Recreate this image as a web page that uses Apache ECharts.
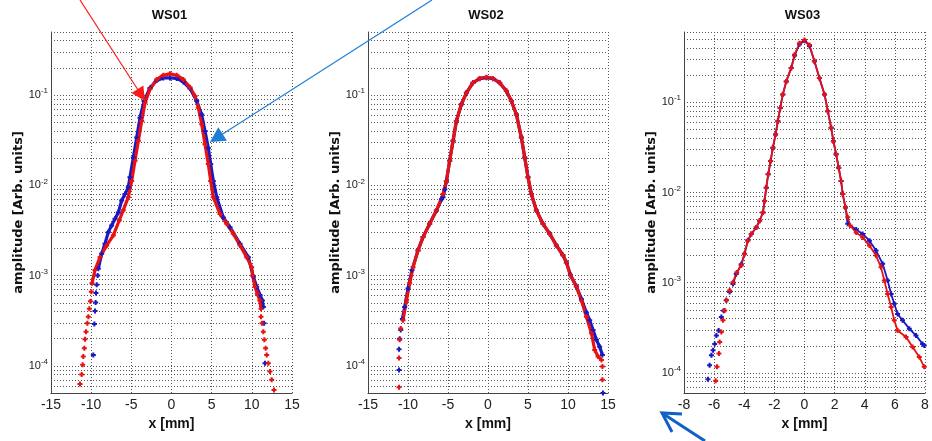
<!DOCTYPE html>
<html><head><meta charset="utf-8">
<script src="https://cdn.jsdelivr.net/npm/echarts@6/dist/echarts.min.js"></script>
<style>html,body{margin:0;padding:0;background:#fff}#c{width:932px;height:441px}</style>
</head><body><div id="c"></div>
<script>
// ---------- data (x in mm, amplitude in arb. units) ----------
const panelTitles = ['WS01', 'WS02', 'WS03'];
const xTicks = [[-15, 15, 5], [-15, 15, 5], [-8, 8, 2]];
const yRanges = [[5e-5, 0.5], [5e-5, 0.5], [6e-5, 0.6]];
const yLabelTicks = [1e-4, 1e-3, 1e-2, 1e-1];

const ws01BlueTail = [[-9.73,1.32e-4],[-9.6,2.9e-4],[-9.52,4.05e-4],[-9.44,5.03e-4],[-9.4,6.4e-4],[-9.31,7.9e-4],[-9.19,1.0e-3],[11.52,2.96e-4],[11.64,1.07e-4]];
const ws01BlueBody = [[-9.11,1.19e-3],[-8.69,1.75e-3],[-8.28,2.25e-3],[-7.87,3.03e-3],[-7.45,3.6e-3],[-7.03,4.26e-3],[-6.62,5.0e-3],[-6.2,6.8e-3],[-5.79,8.0e-3],[-5.38,9.5e-3],[-5.17,0.0123],[-4.75,0.0203],[-4.33,0.0338],[-3.92,0.0562],[-3.42,0.0859],[-2.68,0.12],[-1.84,0.145],[-1.02,0.155],[-0.19,0.155],[0.65,0.153],[1.47,0.14],[2.3,0.118],[3.14,0.086],[3.76,0.061],[4.17,0.04],[4.58,0.026],[4.88,0.0172],[5.2,0.0112],[5.63,7.4e-3],[6.45,4.4e-3],[7.28,3.44e-3],[8.53,2.25e-3],[9.56,1.6e-3],[10.19,9.7e-4],[10.6,7.5e-4],[11.02,6.1e-4],[11.31,5.3e-4],[11.43,4.5e-4]];
const ws01RedTail = [[-11.39,6.3e-5],[-11.18,8e-5],[-11.06,1.03e-4],[-10.98,1.27e-4],[-10.85,1.57e-4],[-10.77,1.97e-4],[-10.64,2.39e-4],[-10.48,2.96e-4],[-10.35,3.5e-4],[-10.23,4.3e-4],[-10.1,5.2e-4],[-9.98,6.6e-4],[11.14,3.5e-4],[11.27,2.96e-4],[11.43,2.39e-4],[11.56,1.94e-4],[11.72,1.57e-4],[11.85,1.32e-4],[12.05,1.07e-4],[12.26,8.65e-5],[12.47,7.0e-5],[12.76,5.4e-5]];
const ws01RedBody = [[-9.9,8.2e-4],[-9.52,1.15e-3],[-8.9,1.6e-3],[-8.07,2.16e-3],[-7.24,2.79e-3],[-6.5,4.1e-3],[-6.0,5.3e-3],[-5.38,7.4e-3],[-4.96,0.0112],[-4.54,0.0187],[-4.13,0.0311],[-3.71,0.0516],[-3.3,0.082],[-2.68,0.116],[-1.84,0.149],[-1.02,0.166],[-0.19,0.172],[0.65,0.166],[1.47,0.149],[2.3,0.122],[2.93,0.0975],[3.34,0.0724],[3.76,0.0475],[4.17,0.0286],[4.58,0.0172],[4.88,0.0112],[5.2,7.4e-3],[6.04,4.8e-3],[6.87,3.75e-3],[7.69,2.91e-3],[8.53,2.16e-3],[9.36,1.6e-3],[9.98,1.24e-3],[10.1,1.0e-3],[10.4,7.5e-4],[10.68,6.3e-4],[11.0,5.3e-4],[11.14,4.3e-4]];

const ws02BlueTail = [[-11.12,9.0e-5],[-11.12,1.53e-4],[-11.04,2.0e-4],[-10.91,2.5e-4],[14.37,5.0e-5]];
const ws02BlueBody = [[-10.7,3.3e-4],[-10.41,4.5e-4],[-10.0,7.2e-4],[-9.5,1.15e-3],[-8.75,1.9e-3],[-8.12,2.67e-3],[-7.29,3.75e-3],[-6.45,5.26e-3],[-5.8,7.0e-3],[-5.62,7.4e-3],[-5.4,9.0e-3],[-5.2,0.0112],[-4.79,0.0187],[-4.37,0.0311],[-3.95,0.0516],[-3.33,0.079],[-2.7,0.106],[-1.87,0.137],[-1.04,0.152],[-0.2,0.156],[0.62,0.152],[1.46,0.137],[2.3,0.111],[2.92,0.086],[3.55,0.061],[4.17,0.0338],[4.59,0.0203],[5.0,0.0123],[5.42,8.0e-3],[6.05,5.26e-3],[6.87,3.75e-3],[7.71,2.91e-3],[8.55,2.16e-3],[9.37,1.68e-3],[9.8,1.4e-3],[10.3,1.02e-3],[11.05,7.6e-4],[11.68,5.5e-4],[12.3,3.9e-4],[12.71,3.2e-4],[13.13,2.5e-4],[13.55,1.94e-4],[13.96,1.63e-4],[14.3,1.32e-4]];
const ws02RedTail = [[-11.12,5.8e-5],[-11.12,1.22e-4],[-11.04,1.94e-4],[-10.91,2.6e-4],[14.3,9.8e-5],[14.3,7.0e-5]];
const ws02RedBody = [[-10.62,3.2e-4],[-10.2,5.3e-4],[-9.79,8.2e-4],[-9.37,1.24e-3],[-8.75,1.9e-3],[-8.12,2.67e-3],[-7.29,3.75e-3],[-6.45,5.26e-3],[-5.62,8.0e-3],[-5.2,0.0112],[-4.79,0.0187],[-4.37,0.0311],[-3.95,0.0516],[-3.33,0.079],[-2.7,0.106],[-1.87,0.137],[-1.04,0.153],[-0.2,0.158],[0.62,0.153],[1.46,0.137],[2.3,0.111],[2.92,0.086],[3.55,0.061],[4.17,0.0338],[4.59,0.0203],[5.0,0.0123],[5.42,8.0e-3],[6.05,5.26e-3],[6.87,3.75e-3],[7.71,2.91e-3],[8.55,2.16e-3],[9.37,1.68e-3],[9.8,1.4e-3],[10.3,1.0e-3],[11.05,7.5e-4],[11.68,5.3e-4],[12.3,3.5e-4],[12.93,2.3e-4],[13.34,1.5e-4],[13.76,1.27e-4],[14.18,1.16e-4]];

const ws03BlueTail = [[-6.41,8.5e-5],[-6.3,1.22e-4],[-6.18,1.57e-4],[-6.07,1.79e-4],[-5.96,2.1e-4],[-5.85,2.6e-4],[-5.7,2.96e-4],[-5.52,4.16e-4],[-5.37,4.9e-4],[-5.19,6.4e-4],[-4.97,7.9e-4]];
const ws03BlueBody = [[-4.75,9.7e-4],[-4.53,1.25e-3],[-4.2,1.6e-3],[-3.98,2.1e-3],[-3.76,2.95e-3],[-3.53,3.47e-3],[-3.2,4.1e-3],[-2.98,4.86e-3],[-2.76,6.0e-3],[-2.65,8.07e-3],[-2.54,0.0113],[-2.41,0.0159],[-2.25,0.0223],[-2.1,0.0313],[-1.92,0.044],[-1.77,0.0616],[-1.61,0.0865],[-1.44,0.122],[-1.21,0.17],[-0.88,0.24],[-0.66,0.33],[-0.33,0.44],[0,0.48],[0.33,0.42],[0.66,0.284],[0.99,0.185],[1.33,0.122],[1.55,0.0796],[1.77,0.052],[1.92,0.037],[2.1,0.0265],[2.27,0.0188],[2.43,0.0134],[2.54,9.6e-3],[2.72,6.8e-3],[2.87,4.5e-3],[3.43,3.9e-3],[3.86,3.47e-3],[4.31,2.92e-3],[4.75,2.27e-3],[5.19,1.62e-3],[5.52,1.06e-3],[5.75,7.5e-4],[5.96,5.85e-4],[6.18,4.5e-4],[6.51,3.83e-4],[6.96,3.1e-4],[7.4,2.6e-4],[7.84,2.1e-4],[7.95,2.02e-4]];
const ws03RedTail = [[-5.9,8.2e-5],[-5.81,1.17e-4],[-5.68,1.64e-4],[-5.63,2.2e-4],[-5.52,2.84e-4],[-5.41,3.83e-4],[-5.3,4.93e-4],[-5.19,6.4e-4],[-4.97,8.2e-4]];
const ws03RedBody = [[-4.75,1.01e-3],[-4.5,1.3e-3],[-4.2,1.55e-3],[-3.98,2.08e-3],[-3.76,2.92e-3],[-3.53,3.47e-3],[-3.2,4.1e-3],[-2.98,4.86e-3],[-2.76,6.0e-3],[-2.65,8.07e-3],[-2.54,0.0113],[-2.41,0.0159],[-2.25,0.0223],[-2.1,0.0313],[-1.92,0.044],[-1.77,0.0616],[-1.61,0.0865],[-1.44,0.122],[-1.21,0.17],[-0.88,0.24],[-0.66,0.336],[-0.33,0.45],[0,0.49],[0.33,0.43],[0.66,0.284],[0.99,0.185],[1.33,0.122],[1.55,0.0796],[1.77,0.052],[1.92,0.037],[2.1,0.0265],[2.27,0.0188],[2.43,0.0134],[2.54,9.6e-3],[2.72,6.8e-3],[2.87,5.3e-3],[3.03,4.3e-3],[3.43,3.6e-3],[3.86,3.18e-3],[4.31,2.58e-3],[4.75,2.0e-3],[5.08,1.48e-3],[5.3,1.06e-3],[5.52,7.5e-4],[5.75,5.4e-4],[5.96,3.83e-4],[6.18,2.96e-4],[6.74,2.5e-4],[7.18,1.94e-4],[7.62,1.5e-4],[7.95,1.17e-4]];

const panelSeries = [
  {blueBody: ws01BlueBody, blueTail: ws01BlueTail, redBody: ws01RedBody, redTail: ws01RedTail},
  {blueBody: ws02BlueBody, blueTail: ws02BlueTail, redBody: ws02RedBody, redTail: ws02RedTail},
  {blueBody: ws03BlueBody, blueTail: ws03BlueTail, redBody: ws03RedBody, redTail: ws03RedTail}
];

// ---------- layout / style ----------
const grids = [
  {left: 51, top: 32, width: 241, height: 361},
  {left: 368, top: 32, width: 240, height: 361},
  {left: 684, top: 32, width: 241, height: 361}
];
const lineWidths = [3.2, 3.2, 1.8];
const BLUE = '#1818c4', RED = '#e81212';
const plus = 'path://M3,0H7V3H10V7H7V10H3V7H0V3H3Z';
const gridLine = {show: true, lineStyle: {color: '#555', width: 1, type: [1, 2]}};

function gridValues(lo, hi) {
  const out = [];
  for (let e = -6; e <= 0; e++) for (let m = 1; m <= 9; m++) {
    const v = +(m * Math.pow(10, e)).toPrecision(3);
    if (v >= lo * 0.999 && v <= hi * 1.001) out.push(v);
  }
  return out;
}

const option = {animation: false, grid: [], xAxis: [], yAxis: [], series: [], graphic: []};
for (let i = 0; i < 3; i++) {
  option.grid.push(grids[i]);
  option.xAxis.push({
    type: 'value', gridIndex: i, min: xTicks[i][0], max: xTicks[i][1], interval: xTicks[i][2],
    axisLine: {show: true, onZero: false, lineStyle: {color: '#444', width: 1}},
    axisTick: {show: false},
    splitLine: gridLine,
    axisLabel: {margin: 5, fontSize: 14, fontFamily: '"Liberation Sans Narrow","Liberation Sans"', color: '#222'},
    name: 'x [mm]', nameLocation: 'middle', nameGap: 22,
    nameTextStyle: {fontSize: 14, fontWeight: 'bold', fontFamily: '"Liberation Sans"', color: '#111'}
  });
  option.yAxis.push({
    type: 'log', logBase: 10, gridIndex: i, min: yRanges[i][0], max: yRanges[i][1],
    axisLine: {show: true, onZero: false, lineStyle: {color: '#444', width: 1}},
    axisTick: {show: false, customValues: gridValues(yRanges[i][0], yRanges[i][1])},
    splitLine: gridLine,
    axisLabel: {
      customValues: yLabelTicks, margin: 3,
      formatter: v => '{b|10}{s|' + Math.round(Math.log10(v)) + '}',
      rich: {
        b: {fontSize: 11, fontFamily: '"Liberation Sans"', color: '#222'},
        s: {fontSize: 8, fontFamily: '"Liberation Sans"', color: '#222', padding: [0, 0, 8, 0]}
      }
    },
    name: 'amplitude [Arb. units]', nameLocation: 'middle', nameGap: 22,
    nameTextStyle: {fontSize: 13, fontWeight: 'bold', fontFamily: '"DejaVu Sans"', color: '#111'}
  });
  const s = panelSeries[i];
  const mk = (data, color, isLine) => isLine ? {
    type: 'line', xAxisIndex: i, yAxisIndex: i, data, symbol: plus, symbolSize: 5, showSymbol: true,
    lineStyle: {color, width: lineWidths[i]}, itemStyle: {color}, silent: true, z: 3
  } : {
    type: 'scatter', xAxisIndex: i, yAxisIndex: i, data, symbol: plus, symbolSize: 5,
    itemStyle: {color, opacity: 1}, silent: true, z: 3
  };
  option.series.push(mk(s.blueBody, BLUE, true), mk(s.blueTail, BLUE, false),
                     mk(s.redBody, RED, true), mk(s.redTail, RED, false));
  const g = grids[i];
  option.graphic.push({type: 'text', x: g.left + g.width / 2 - 2, y: 15,
    style: {text: panelTitles[i], align: 'center', verticalAlign: 'middle',
            fontSize: 13, fontWeight: 'bold', fontFamily: '"Liberation Sans"', fill: '#111'}});
}

// annotation arrows
function headPts(tx, ty, fx, fy, len, half) {
  const dx = tx - fx, dy = ty - fy, L = Math.hypot(dx, dy), ux = dx / L, uy = dy / L;
  const bx = tx - ux * len, by = ty - uy * len;
  return [[tx, ty], [bx - uy * half, by + ux * half], [bx + uy * half, by - ux * half]];
}
option.graphic.push(
  {type: 'line', shape: {x1: 80, y1: 0, x2: 140, y2: 93}, style: {stroke: '#ff1a1a', lineWidth: 1.2}, z: 100},
  {type: 'polygon', shape: {points: headPts(145, 101, 80, 0, 14, 7)}, style: {fill: '#ff1a1a'}, z: 100},
  {type: 'line', shape: {x1: 432, y1: 0, x2: 218, y2: 137}, style: {stroke: '#1f7fd6', lineWidth: 1.2}, z: 100},
  {type: 'polygon', shape: {points: headPts(210, 142, 432, 0, 15, 8)}, style: {fill: '#1f7fd6'}, z: 100},
  {type: 'polyline', shape: {points: [[705, 441], [662, 413]]}, style: {stroke: '#1060c8', lineWidth: 3}, z: 100},
  {type: 'polyline', shape: {points: [[682, 414], [662, 413], [672, 432]]}, style: {stroke: '#1060c8', lineWidth: 3, fill: null}, z: 100}
);

const chart = echarts.init(document.getElementById('c'), null, {renderer: 'canvas'});
chart.setOption(option);
</script></body></html>
